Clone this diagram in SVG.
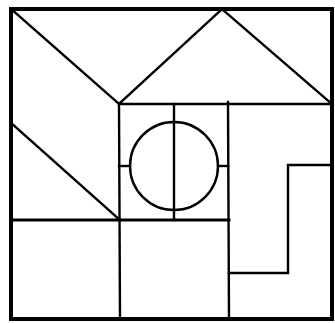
<svg xmlns="http://www.w3.org/2000/svg" width="335" height="323" viewBox="0 0 335 323">
<style>
.b{fill:none;stroke:#000;stroke-width:4;stroke-linejoin:miter}
.l{fill:none;stroke:#000;stroke-width:2.4;stroke-linecap:square}
.m{fill:none;stroke:#000;stroke-width:3;stroke-linecap:square}
</style>
<rect width="335" height="323" fill="#fff"/>
<g id="frame"><rect class="b" x="11" y="9" width="321" height="310"/></g>
<g id="roof">
<polyline class="l" points="11,9 119,104 222,9 332,104"/>
<line class="l" x1="119" y1="104" x2="332" y2="104"/>
</g>
<g id="diagonal"><line class="l" x1="11" y1="123" x2="120" y2="220"/></g>
<g id="inner">
<line class="l" x1="119" y1="104" x2="120" y2="319"/>
<line class="l" x1="228" y1="102" x2="229" y2="319"/>
<line class="m" x1="11" y1="220" x2="229" y2="220"/>
</g>
<g id="circle">
<circle class="l" cx="174" cy="166" r="44"/>
<line class="l" x1="174" y1="104" x2="174" y2="220"/>
<line class="l" x1="119" y1="166" x2="130" y2="166"/>
<line class="l" x1="218" y1="166" x2="228" y2="166"/>
</g>
<g id="step"><polyline class="l" points="229,273 288,273 288,165 332,165"/></g>
</svg>
